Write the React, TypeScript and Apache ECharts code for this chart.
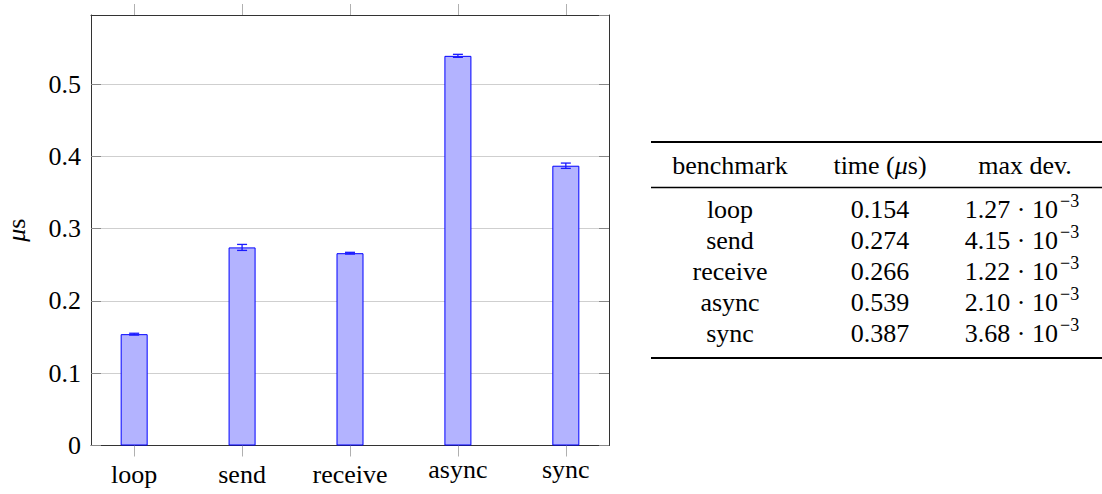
import React, { useEffect, useRef } from "react";
import * as echarts from "echarts";

const categories = ["loop", "send", "receive", "async", "sync"];
const times = [0.154, 0.274, 0.266, 0.539, 0.387];
const maxDev = [1.27e-3, 4.15e-3, 1.22e-3, 2.1e-3, 3.68e-3];
const yTicks = [0, 0.1, 0.2, 0.3, 0.4, 0.5];
const tableHeader = ["benchmark", "time (μs)", "max dev."];
const devExponent = "−3";

const FONT = "Liberation Serif";
const FS = 26;

const Y_MAX = 0.5955;
const X_MIN = -0.4;
const X_MAX = 4.4;

function txt(x: number, y: number, text: string, align: string, size = FS) {
  return {
    type: "text",
    x,
    y,
    style: { text, fontFamily: FONT, fontSize: size, fill: "#000", align, verticalAlign: "middle" },
  };
}

function buildTable() {
  const els: any[] = [];
  const x0 = 651;
  const x1 = 1102;
  const colC = [730, 880, 1025];
  const headerBase = 174;
  const rowBase = [218, 249, 280, 311, 342];
  const mid = (b: number) => b - 9;
  els.push({ type: "line", shape: { x1: x0, y1: 142, x2: x1, y2: 142 }, style: { stroke: "#000", lineWidth: 2 } });
  els.push({ type: "line", shape: { x1: x0, y1: 187.5, x2: x1, y2: 187.5 }, style: { stroke: "#000", lineWidth: 1.3 } });
  els.push({ type: "line", shape: { x1: x0, y1: 358, x2: x1, y2: 358 }, style: { stroke: "#000", lineWidth: 2 } });
  els.push(txt(colC[0], mid(headerBase), tableHeader[0], "center"));
  els.push({
    type: "text",
    x: colC[1],
    y: mid(headerBase),
    style: {
      text: "{n|time (}{i|μ}{n|s)}",
      align: "center",
      verticalAlign: "middle",
      rich: {
        n: { fontFamily: FONT, fontSize: FS, fill: "#000" },
        i: { fontFamily: FONT, fontSize: FS, fontStyle: "italic", fill: "#000" },
      },
    },
  });
  els.push(txt(colC[2], mid(headerBase), tableHeader[2], "center"));
  categories.forEach((c, i) => {
    const b = rowBase[i];
    els.push(txt(colC[0], mid(b), c, "center"));
    els.push(txt(colC[1], mid(b), times[i].toFixed(3), "center"));
    const mant = (maxDev[i] * 1000).toFixed(2);
    els.push(txt(1058, mid(b), `${mant} · 10`, "right"));
    els.push(txt(1060, b - 17, devExponent, "left", 18));
  });
  return els;
}

const hasTall = (s: string) => /[bdfhiklt]/.test(s);

export default function App() {
  const ref = useRef<HTMLDivElement>(null);
  useEffect(() => {
    if (!ref.current) return;
    const chart = echarts.init(ref.current, null, { renderer: "svg" });
    const catIdx = categories.map((_, i) => i);
    const frameLine = { show: true, onZero: false, lineStyle: { color: "#333", width: 1 } };
    chart.setOption({
      animation: false,
      backgroundColor: "#fff",
      textStyle: { fontFamily: FONT },
      grid: { left: 91, right: 493, top: 15, bottom: 48.5 },
      xAxis: [
        {
          type: "value",
          min: X_MIN,
          max: X_MAX,
          position: "bottom",
          axisLine: frameLine,
          axisTick: { show: true, customValues: catIdx, inside: false, length: 11, lineStyle: { color: "#b0b0b0", width: 1 } },
          axisLabel: {
            show: true,
            customValues: catIdx,
            margin: 11,
            formatter: (v: number) => {
              const s = categories[Math.round(v)] ?? "";
              return hasTall(s) ? `{a|${s}}` : `{b|${s}}`;
            },
            rich: {
              a: { fontFamily: FONT, fontSize: FS, color: "#000", lineHeight: 36 },
              b: { fontFamily: FONT, fontSize: FS, color: "#000", lineHeight: 26 },
            },
          },
          splitLine: { show: false },
        },
        {
          type: "value",
          min: X_MIN,
          max: X_MAX,
          position: "top",
          axisLine: frameLine,
          axisTick: { show: true, customValues: catIdx, inside: false, length: 11, lineStyle: { color: "#b0b0b0", width: 1 } },
          axisLabel: { show: false },
          splitLine: { show: false },
        },
      ],
      yAxis: [
        {
          type: "value",
          min: 0,
          max: Y_MAX,
          interval: 0.1,
          position: "left",
          axisLine: frameLine,
          axisTick: { show: true, inside: true, length: 10, lineStyle: { color: "#888", width: 1 } },
          axisLabel: {
            show: true,
            showMaxLabel: false,
            margin: 10,
            fontFamily: FONT,
            fontSize: FS,
            color: "#000",
            formatter: (v: number) => {
              const t = yTicks.find((y) => Math.abs(y - v) < 1e-6);
              if (t === undefined) return "";
              return t === 0 ? "0" : t.toFixed(1);
            },
          },
          splitLine: { show: true, lineStyle: { color: "#cfcfcf", width: 1 } },
          name: "{i|μ}{n|s}",
          nameLocation: "middle",
          nameRotate: 90,
          nameGap: 62,
          nameTextStyle: {
            rich: {
              i: { fontFamily: FONT, fontSize: FS, fontStyle: "italic", color: "#000" },
              n: { fontFamily: FONT, fontSize: FS, color: "#000" },
            },
          },
        },
        {
          type: "value",
          min: 0,
          max: Y_MAX,
          interval: 0.1,
          position: "right",
          axisLine: frameLine,
          axisTick: { show: true, inside: true, length: 10, lineStyle: { color: "#888", width: 1 } },
          axisLabel: { show: false },
          splitLine: { show: false },
        },
      ],
      series: [
        {
          type: "bar",
          xAxisIndex: 0,
          yAxisIndex: 0,
          barWidth: 27,
          data: times.map((t, i) => [i, t]),
          itemStyle: { color: "#b3b3ff", borderColor: "#0000ff", borderWidth: 1 },
        },
        {
          type: "custom",
          xAxisIndex: 0,
          yAxisIndex: 0,
          encode: { x: 0, y: [1, 2] },
          data: times.map((t, i) => [i, t - maxDev[i], t + maxDev[i]]),
          renderItem: (params: any, api: any) => {
            const x = api.value(0);
            const lo = api.coord([x, api.value(1)]);
            const hi = api.coord([x, api.value(2)]);
            const hw = 5;
            const st = { stroke: "#1a1aff", lineWidth: 1.3 };
            return {
              type: "group",
              children: [
                { type: "line", shape: { x1: lo[0], y1: lo[1], x2: hi[0], y2: hi[1] }, style: st },
                { type: "line", shape: { x1: lo[0] - hw, y1: lo[1], x2: lo[0] + hw, y2: lo[1] }, style: st },
                { type: "line", shape: { x1: hi[0] - hw, y1: hi[1], x2: hi[0] + hw, y2: hi[1] }, style: st },
              ],
            };
          },
          z: 5,
        },
      ],
      graphic: buildTable(),
    });
    return () => chart.dispose();
  }, []);
  return <div ref={ref} style={{ position: "fixed", left: 0, top: 0, width: 1102, height: 494 }} />;
}
